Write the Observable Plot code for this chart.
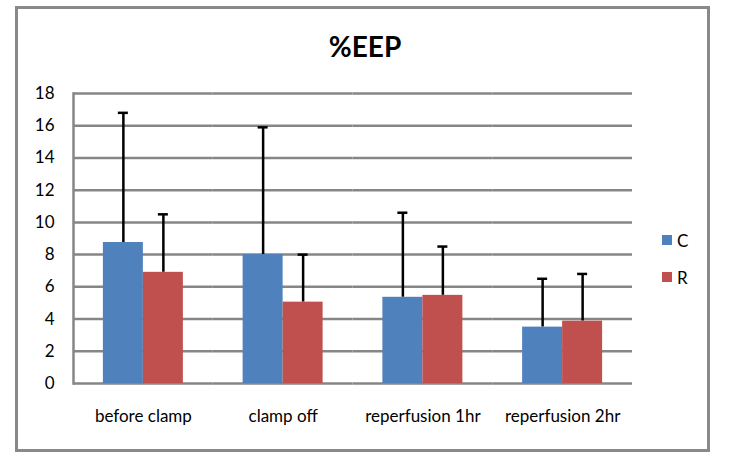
<!DOCTYPE html>
<html>
<head>
<meta charset="utf-8">
<script src="https://cdn.jsdelivr.net/npm/d3@7"></script>
<script src="https://cdn.jsdelivr.net/npm/@observablehq/plot@0.6"></script>
<style>
  body { margin: 0; background: #fff; }
  #wrap { position: relative; width: 730px; height: 458px; overflow: hidden; font-family: Lato, "Liberation Sans", sans-serif; }
  #frame { position: absolute; left: 15px; top: 6px; width: 689px; height: 440px; border: 3px solid #898989; }
  #title { position: absolute; left: 0; width: 730px; top: 29px; text-align: center; font-size: 28px; font-weight: bold; color: #000; }
  #chart { position: absolute; left: 0; top: 0; }
  #legend { position: absolute; left: 662px; top: 231px; font-size: 17px; color: #000; }
  .li { display: flex; align-items: center; height: 18px; margin-bottom: 19px; }
  .sw { width: 10px; height: 10px; margin-right: 5px; }
</style>
</head>
<body>
<div id="wrap">
  <div id="frame"></div>
  <div id="title"></div>
  <div id="chart"></div>
  <div id="legend"></div>
</div>
<script>
const title = "%EEP";
const categories = ["before clamp", "clamp off", "reperfusion 1hr", "reperfusion 2hr"];
const seriesNames = ["C", "R"];
const seriesColors = ["#4F81BD", "#C0504D"];
const valuesC = [8.75, 8.0, 5.35, 3.5];
const errorsC = [8.05, 7.9, 5.25, 3.0];
const valuesR = [6.9, 5.05, 5.47, 3.87];
const errorsR = [3.6, 2.95, 3.03, 2.93];
const yTicks = [0, 2, 4, 6, 8, 10, 12, 14, 16, 18];

const data = [];
categories.forEach((c, i) => {
  data.push({cat: c, series: "C", value: valuesC[i], err: errorsC[i]});
  data.push({cat: c, series: "R", value: valuesR[i], err: errorsR[i]});
});

document.getElementById("title").textContent = title;

const grid = "#868686";
const chart = Plot.plot({
  width: 730,
  height: 458,
  marginLeft: 73,
  marginRight: 98,
  marginTop: 93,
  marginBottom: 75,
  style: {fontFamily: "Lato, 'Liberation Sans', sans-serif", fontSize: "17px", color: "#000", background: "transparent"},
  fx: {domain: categories, padding: 0, label: null, round: false, axis: null},
  x: {domain: seriesNames, paddingInner: 0, paddingOuter: 0.747, axis: null, round: false},
  y: {domain: [0, 18], label: null, axis: null},
  color: {domain: seriesNames, range: seriesColors},
  marks: [
    Plot.gridY(yTicks, {stroke: grid, strokeOpacity: 1, strokeWidth: 2.5}),
    Plot.frame({anchor: "left", facetAnchor: "left", stroke: grid, strokeWidth: 2.5}),
    Plot.axisY({ticks: yTicks, tickSize: 0, tickPadding: 19, label: null, fill: "#000"}),
    Plot.axisFx({anchor: "bottom", tickSize: 0, tickPadding: 26, label: null, fill: "#000"}),
    Plot.ruleX(data, {fx: "cat", x: "series", y1: "value", y2: d => d.value + d.err, stroke: "#000", strokeWidth: 2.5}),
    Plot.tickY(data, {fx: "cat", x: "series", y: d => d.value + d.err, stroke: "#000", strokeWidth: 2.5, insetLeft: 15, insetRight: 15}),
    Plot.barY(data, {fx: "cat", x: "series", y: "value", fill: "series"})
  ]
});
document.getElementById("chart").appendChild(chart);

const legend = document.getElementById("legend");
seriesNames.forEach((s, i) => {
  const row = document.createElement("div");
  row.className = "li";
  const sw = document.createElement("div");
  sw.className = "sw";
  sw.style.background = seriesColors[i];
  const t = document.createElement("span");
  t.textContent = s;
  row.appendChild(sw);
  row.appendChild(t);
  legend.appendChild(row);
});
</script>
</body>
</html>
